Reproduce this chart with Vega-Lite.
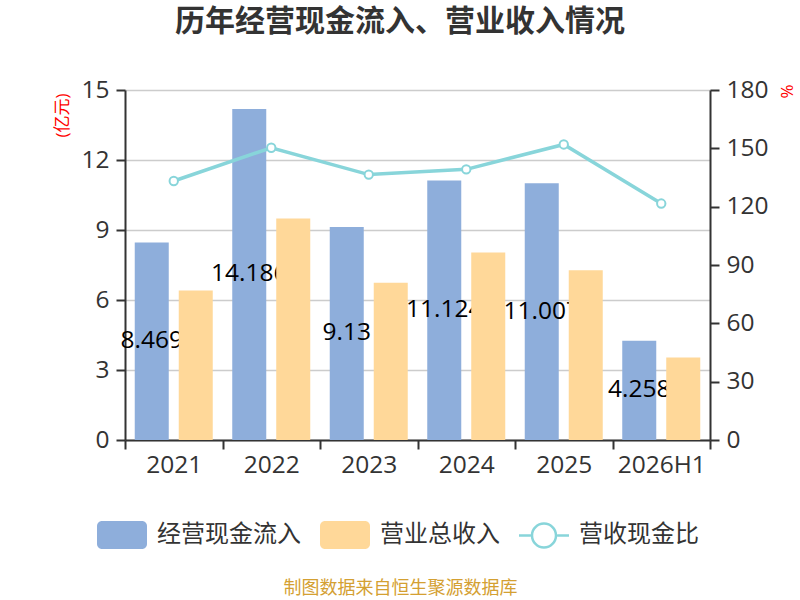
{
  "$schema": "https://vega.github.io/schema/vega-lite/v6.json",
  "width": 585,
  "height": 350,
  "autosize": {"type": "none"},
  "padding": {"left": 125, "top": 90, "right": 90, "bottom": 160},
  "background": "white",
  "config": {
    "font": "Open Sans, Noto Sans CJK SC",
    "view": {"stroke": null}
  },
  "title": {
    "text": "历年经营现金流入、营业收入情况",
    "fontSize": 30,
    "fontWeight": "bold",
    "color": "#333333",
    "anchor": "middle",
    "dx": -17.5,
    "offset": 40
  },
  "data": {
    "values": [
      {"year": "2021", "series": "经营现金流入", "value": 8.469},
      {"year": "2022", "series": "经营现金流入", "value": 14.186},
      {"year": "2023", "series": "经营现金流入", "value": 9.13},
      {"year": "2024", "series": "经营现金流入", "value": 11.124},
      {"year": "2025", "series": "经营现金流入", "value": 11.007},
      {"year": "2026H1", "series": "经营现金流入", "value": 4.258},
      {"year": "2021", "series": "营业总收入", "value": 6.41},
      {"year": "2022", "series": "营业总收入", "value": 9.49},
      {"year": "2023", "series": "营业总收入", "value": 6.74},
      {"year": "2024", "series": "营业总收入", "value": 8.04},
      {"year": "2025", "series": "营业总收入", "value": 7.28},
      {"year": "2026H1", "series": "营业总收入", "value": 3.54},
      {"year": "2021", "series": "营收现金比", "value": 133.2},
      {"year": "2022", "series": "营收现金比", "value": 150.3},
      {"year": "2023", "series": "营收现金比", "value": 136.5},
      {"year": "2024", "series": "营收现金比", "value": 139.2},
      {"year": "2025", "series": "营收现金比", "value": 152.0},
      {"year": "2026H1", "series": "营收现金比", "value": 121.6}
    ]
  },
  "encoding": {
    "x": {
      "field": "year",
      "type": "nominal",
      "sort": null,
      "scale": {"paddingInner": 0, "paddingOuter": 0},
      "axis": {
        "orient": "bottom",
        "tickBand": "extent",
        "domainColor": "#333333",
        "domainWidth": 2,
        "tickColor": "#333333",
        "tickWidth": 2,
        "tickSize": 9,
        "labelFontSize": 24.5,
        "labelColor": "#333333",
        "labelPadding": 4,
        "labelAngle": 0,
        "title": "制图数据来自恒生聚源数据库",
        "titleColor": "#d4a032",
        "titleFontSize": 18,
        "titleFontWeight": "normal",
        "titleX": 275,
        "titleY": 148,
        "titleAlign": "center",
        "titleBaseline": "middle"
      }
    }
  },
  "layer": [
    {
      "transform": [{"filter": "datum.series === '经营现金流入'"}],
      "mark": {"type": "bar"},
      "encoding": {
        "xOffset": {
          "field": "series",
          "type": "nominal",
          "scale": {"domain": ["经营现金流入", "营业总收入"], "paddingInner": 0.227, "paddingOuter": 0.2216}
        },
        "y": {
          "field": "value",
          "type": "quantitative",
          "scale": {"domain": [0, 15], "nice": false},
          "axis": {
            "orient": "left",
            "values": [0, 3, 6, 9, 12, 15],
            "grid": true,
            "gridColor": "#cccccc",
            "gridWidth": 1.5,
            "domainColor": "#333333",
            "domainWidth": 2,
            "tickColor": "#333333",
            "tickWidth": 2,
            "tickSize": 9,
            "labelFontSize": 24.5,
            "labelColor": "#333333",
            "labelPadding": 7,
            "title": "(亿元)",
            "titleColor": "red",
            "titleFontSize": 17,
            "titleFontWeight": "normal",
            "titleAngle": -90,
            "titleX": -63,
            "titleY": 25,
            "titleAlign": "center",
            "titleBaseline": "middle"
          }
        },
        "color": {
          "field": "series",
          "type": "nominal",
          "scale": {
            "domain": ["经营现金流入", "营业总收入", "营收现金比"],
            "range": ["#8eaedb", "#ffd899", "#88d5da"]
          },
          "legend": {
            "orient": "none",
            "legendX": -28,
            "legendY": 420,
            "direction": "horizontal",
            "title": null,
            "symbolSize": 2500,
            "labelFontSize": 24,
            "labelColor": "#333333",
            "labelOffset": 10,
            "columnPadding": 19,
            "encode": {
              "symbols": {
                "update": {
                  "shape": {"signal": "datum.value === '营收现金比' ? 'M-1,-0.05H-0.53V0.05H-1ZM0.53,-0.05H1V0.05H0.53ZM0.53,0A0.53,0.53,0,1,1,-0.53,0A0.53,0.53,0,1,1,0.53,0ZM0.43,0A0.43,0.43,0,1,0,-0.43,0A0.43,0.43,0,1,0,0.43,0Z' : 'M-0.8,-0.56H0.8A0.2,0.2,0,0,1,1,-0.36V0.36A0.2,0.2,0,0,1,0.8,0.56H-0.8A0.2,0.2,0,0,1,-1,0.36V-0.36A0.2,0.2,0,0,1,-0.8,-0.56Z'"},
                  "strokeWidth": {"value": 0},
                  "opacity": {"value": 1}
                }
              }
            }
          }
        }
      }
    },
    {
      "transform": [{"filter": "datum.series === '经营现金流入'"}],
      "mark": {"type": "text", "fontSize": 24.5, "color": "#000000", "align": "center", "baseline": "middle"},
      "encoding": {
        "xOffset": {"field": "series", "type": "nominal"},
        "y": {"field": "value", "type": "quantitative", "scale": {"domain": [0, 30], "nice": false}, "axis": null},
        "text": {"field": "value", "type": "nominal"}
      }
    },
    {
      "transform": [{"filter": "datum.series === '营业总收入'"}],
      "mark": {"type": "bar"},
      "encoding": {
        "xOffset": {"field": "series", "type": "nominal"},
        "y": {"field": "value", "type": "quantitative", "scale": {"domain": [0, 15], "nice": false}, "axis": null},
        "color": {"field": "series", "type": "nominal"}
      }
    },
    {
      "transform": [{"filter": "datum.series === '营收现金比'"}],
      "mark": {
        "type": "line",
        "color": "#88d5da",
        "strokeWidth": 3.5,
        "point": {"filled": true, "fill": "#ffffff", "stroke": "#88d5da", "strokeWidth": 2, "size": 70, "opacity": 1}
      },
      "encoding": {
        "y": {
          "field": "value",
          "type": "quantitative",
          "scale": {"domain": [0, 180], "nice": false},
          "axis": {
            "orient": "right",
            "values": [0, 30, 60, 90, 120, 150, 180],
            "grid": false,
            "domainColor": "#333333",
            "domainWidth": 2,
            "tickColor": "#333333",
            "tickWidth": 2,
            "tickSize": 9,
            "labelFontSize": 24.5,
            "labelColor": "#333333",
            "labelPadding": 7,
            "title": "%",
            "titleColor": "red",
            "titleFontSize": 17,
            "titleFontWeight": "normal",
            "titleAngle": -90,
            "titleX": 77,
            "titleY": 1,
            "titleAlign": "center",
            "titleBaseline": "middle"
          }
        }
      }
    }
  ],
  "resolve": {"scale": {"y": "independent"}}
}
